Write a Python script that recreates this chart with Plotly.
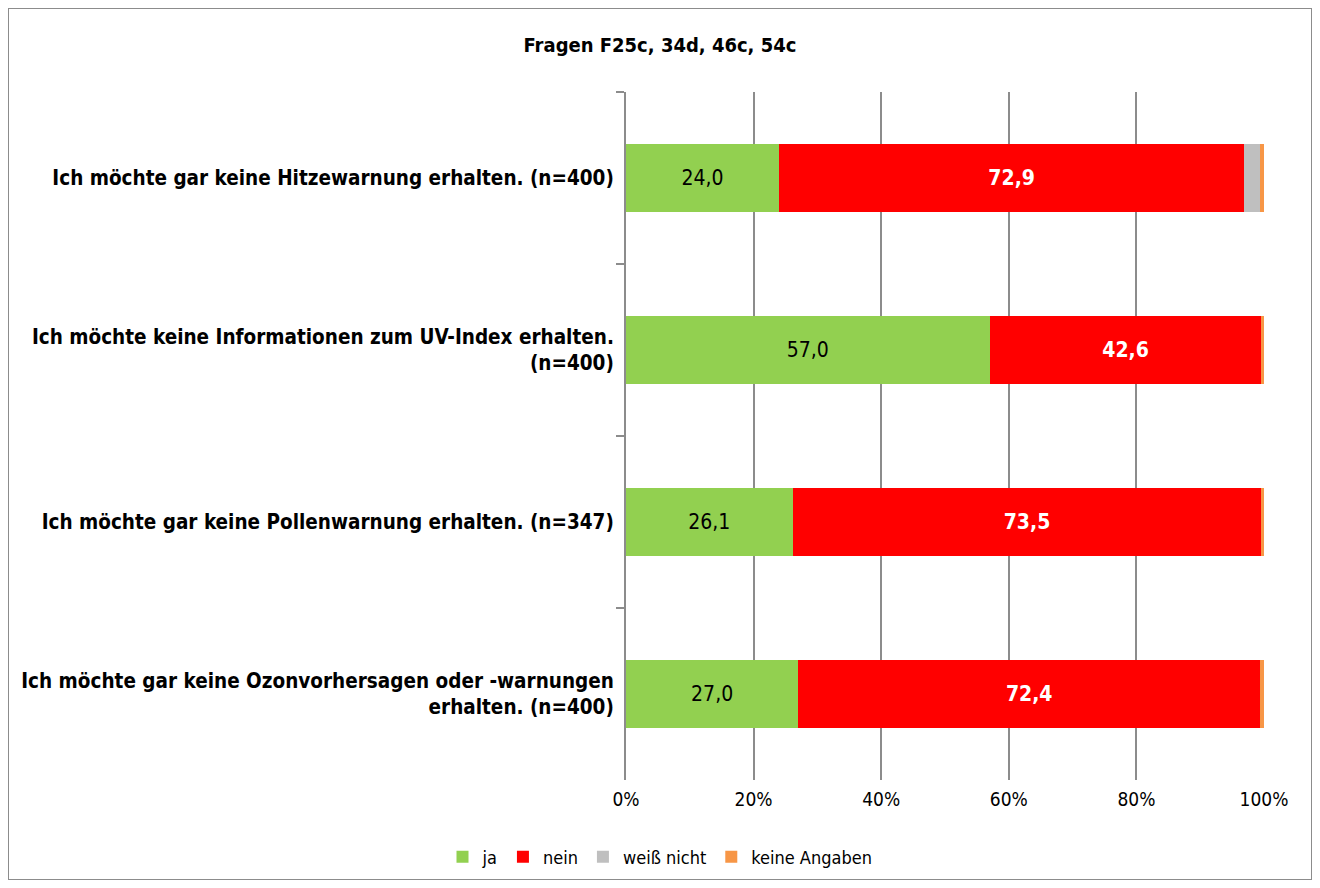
import plotly.graph_objects as go

# ---------------- Data ----------------
categories = [
    "Ich möchte gar keine Hitzewarnung erhalten. (n=400)",
    "Ich möchte keine Informationen zum UV-Index erhalten.<br>(n=400)",
    "Ich möchte gar keine Pollenwarnung erhalten. (n=347)",
    "Ich möchte gar keine Ozonvorhersagen oder -warnungen<br>erhalten. (n=400)",
]
ja = [24.0, 57.0, 26.1, 27.0]
nein = [72.9, 42.6, 73.5, 72.4]
weiss_nicht = [2.5, 0.0, 0.0, 0.0]
keine_angaben = [0.6, 0.4, 0.4, 0.6]
x_ticks = [0, 20, 40, 60, 80, 100]
x_tick_labels = ["0%", "20%", "40%", "60%", "80%", "100%"]

FONT = "DejaVu Sans Condensed, Liberation Sans Narrow, sans-serif"

series = [
    ("ja", ja, "#92D050", "black", True),
    ("nein", nein, "#FF0000", "white", True),
    ("weiß nicht", weiss_nicht, "#BFBFBF", "black", False),
    ("keine Angaben", keine_angaben, "#F79646", "black", False),
]

fig = go.Figure()
for name, vals, color, txtcolor, show_text in series:
    fig.add_trace(go.Bar(
        y=categories,
        x=vals,
        name=name,
        orientation="h",
        marker=dict(color=color, line=dict(width=0)),
        text=[f"{v:.1f}".replace(".", ",") for v in vals] if show_text else None,
        textposition="inside" if show_text else "none",
        insidetextanchor="middle",
        textfont=dict(family=FONT, size=21, color=txtcolor,
                      weight="bold" if name == "nein" else "normal"),
        width=0.4,
        hoverinfo="x+name",
    ))

# ---------------- Layout ----------------
# page body adds an 8px offset, so the figure is 16px smaller than the window
W, H = 1304, 872
ml, mr, mt, mb = 618, 48, 84, 100

fig.update_layout(
    width=W,
    height=H,
    barmode="stack",
    bargap=0.6,
    paper_bgcolor="white",
    plot_bgcolor="white",
    margin=dict(l=ml, r=mr, t=mt, b=mb),
    font=dict(family=FONT, size=18, color="black"),
    title=dict(
        text="<b>Fragen F25c, 34d, 46c, 54c</b>",
        x=0.5, xref="container", xanchor="center",
        y=1 - 37 / H, yref="container", yanchor="middle",
        font=dict(family=FONT, size=20, color="black"),
    ),
    showlegend=True,
    legend=dict(
        orientation="h",
        xref="container", x=0.5, xanchor="center",
        yref="container", y=1 - 849 / H, yanchor="middle",
        font=dict(family=FONT, size=18, color="black"),
        itemwidth=30,
        traceorder="normal",
    ),
    xaxis=dict(
        range=[0, 100],
        tickvals=x_ticks,
        ticktext=x_tick_labels,
        showgrid=True,
        gridcolor="#8C8C8C",
        gridwidth=2,
        zeroline=False,
        showline=False,
        ticks="",
        ticklabelstandoff=6,
        tickfont=dict(family=FONT, size=19, color="black"),
    ),
    yaxis=dict(
        autorange="reversed",
        showline=True,
        linecolor="#8C8C8C",
        linewidth=2,
        ticks="outside",
        tickson="boundaries",
        ticklen=8,
        tickcolor="#8C8C8C",
        tickwidth=2,
        ticklabelstandoff=6,
        tickfont=dict(family=FONT, size=20.5, color="black", weight="bold"),
        showgrid=False,
    ),
    shapes=[dict(
        type="rect", xref="paper", yref="paper",
        x0=-ml / (W - ml - mr), x1=1 + mr / (W - ml - mr),
        y0=-mb / (H - mt - mb), y1=1 + mt / (H - mt - mb),
        line=dict(color="#8C8C8C", width=2), fillcolor="rgba(0,0,0,0)",
        layer="below",
    )],
)

fig.write_html("out.html")
